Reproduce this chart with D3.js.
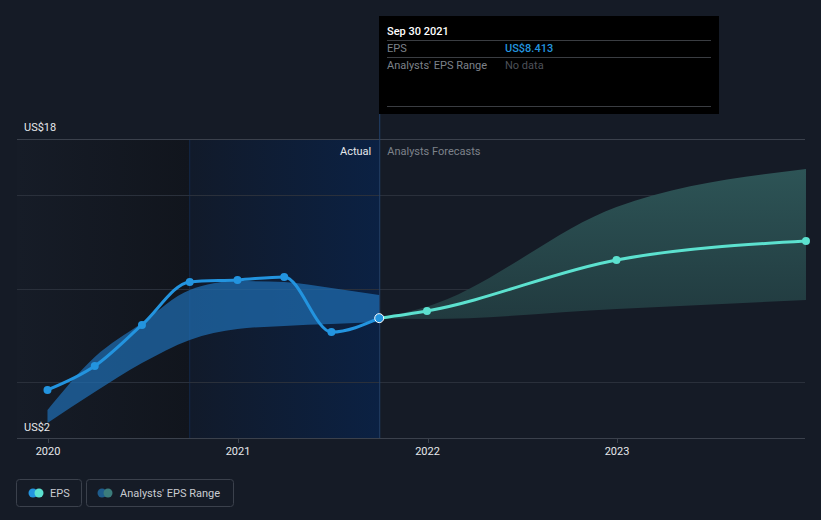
<!DOCTYPE html>
<html><head><meta charset="utf-8">
<script src="https://cdn.jsdelivr.net/npm/d3@7"></script>
<style>
html,body{margin:0;padding:0;background:#151b26;}
svg{display:block;font-family:Roboto,"Open Sans",sans-serif;}
</style></head><body>
<svg id="c" width="821" height="520"></svg>
<script>
// ---- data ----
const actualDates = ["2019-12-31","2020-03-31","2020-06-30","2020-09-30","2020-12-31","2021-03-31","2021-06-30","2021-09-30"];
const actualEPS = [4.57, 5.85, 8.05, 10.35, 10.46, 10.62, 7.67, 8.413];
const pastRangeDates = ["2019-12-31","2020-03-31","2020-06-30","2020-09-30","2020-12-31","2021-03-31","2021-06-30","2021-09-30"];
const pastRangeHigh = [3.50, 6.34, 8.16, 9.92, 10.40, 10.35, 10.03, 9.65];
const pastRangeLow = [2.80, 4.46, 6.01, 7.25, 7.83, 8.00, 8.10, 8.21];
const forecastDates = ["2021-09-30","2021-12-31","2022-12-31","2023-12-31"];
const forecastEPS = [8.413, 8.80, 11.53, 12.54];
const forecastHigh = [8.413, 9.03, 14.36, 16.39];
const forecastLow = [8.413, 8.37, 8.90, 9.39];
const yTicks = [2, 5, 10, 15, 18];
const yLabels = ["US$2", "US$18"];
const xTickYears = ["2020","2021","2022","2023"];

const parse = d3.timeParse("%Y-%m-%d");
const svg = d3.select("#c");
const L = 17, R = 805, T = 139, B = 438;
const x = d3.scaleTime().domain([parse("2019-11-01"), parse("2023-12-31")]);
// calibrate: 2020-01-01 at 48, 2023-01-01 at 617
const x0 = parse("2020-01-01"), x3 = parse("2023-01-01");
const pxPerMs = (617 - 48) / (x3 - x0);
x.domain([new Date(+x0 - (48 - L) / pxPerMs), new Date(+x0 + (R - 48) / pxPerMs)]).range([L, R]);
const y = d3.scaleLinear().domain([2, 18]).range([B, T]);

const defs = svg.append("defs");
const g1 = defs.append("linearGradient").attr("id","pastBg").attr("x1","0").attr("x2","1");
g1.append("stop").attr("offset","0").attr("stop-color","#161c27");
g1.append("stop").attr("offset","1").attr("stop-color","#11151d");
const g2 = defs.append("linearGradient").attr("id","hiBg").attr("x1","0").attr("x2","1");
g2.append("stop").attr("offset","0").attr("stop-color","#111a2a");
g2.append("stop").attr("offset","1").attr("stop-color","#0b2143");
const g3 = defs.append("linearGradient").attr("id","fcBand").attr("x1","0").attr("x2","0").attr("y1","0").attr("y2","1");
g3.append("stop").attr("offset","0").attr("stop-color","#2d5456");
g3.append("stop").attr("offset","1").attr("stop-color","#213a3f");

const splitX = x(parse(actualDates[actualDates.length-1]));
const hiStart = x(parse("2020-09-30"));
svg.append("rect").attr("x", L).attr("y", T).attr("width", hiStart - L).attr("height", B - T).attr("fill", "url(#pastBg)");
svg.append("rect").attr("x", hiStart).attr("y", T).attr("width", splitX - hiStart).attr("height", B - T).attr("fill", "url(#hiBg)");
svg.append("line").attr("x1", hiStart).attr("x2", hiStart).attr("y1", T).attr("y2", B).attr("stroke", "#13284a").attr("stroke-width", 1);

// grid
svg.append("g").selectAll("line").data(yTicks.filter(v => v !== 2)).join("line")
  .attr("x1", L).attr("x2", R).attr("y1", d => Math.round(y(d)) + 0.5).attr("y2", d => Math.round(y(d)) + 0.5)
  .attr("stroke", d => d === 18 ? "#3b414c" : "#2a303b").attr("stroke-width", 1);

// vertical split line
svg.append("line").attr("x1", splitX + 0.5).attr("x2", splitX + 0.5).attr("y1", 114).attr("y2", B)
  .attr("stroke", "#22406b").attr("stroke-width", 1);

const curve = d3.curveMonotoneX;
// past range band
const pastBand = pastRangeDates.map((d, i) => ({d: parse(d), hi: pastRangeHigh[i], lo: pastRangeLow[i]}));
svg.append("path").datum(pastBand)
  .attr("d", d3.area().curve(curve).x(p => x(p.d)).y0(p => y(p.lo)).y1(p => y(p.hi)))
  .attr("fill", "#1f6fb5").attr("fill-opacity", 0.7);

// forecast band
const fcBand = forecastDates.map((d, i) => ({d: parse(d), hi: forecastHigh[i], lo: forecastLow[i]}));
svg.append("path").datum(fcBand)
  .attr("d", d3.area().curve(curve).x(p => x(p.d)).y0(p => y(p.lo)).y1(p => y(p.hi)))
  .attr("fill", "url(#fcBand)");

// forecast line
const fc = forecastDates.map((d, i) => ({d: parse(d), v: forecastEPS[i]}));
svg.append("path").datum(fc)
  .attr("d", d3.line().curve(curve).x(p => x(p.d)).y(p => y(p.v)))
  .attr("fill", "none").attr("stroke", "#5ce1cf").attr("stroke-width", 3);
svg.append("g").selectAll("circle").data(fc.slice(1)).join("circle")
  .attr("cx", p => x(p.d)).attr("cy", p => y(p.v)).attr("r", 4).attr("fill", "#5ce1cf");

// actual line
const act = actualDates.map((d, i) => ({d: parse(d), v: actualEPS[i]}));
svg.append("path").datum(act)
  .attr("d", d3.line().curve(curve).x(p => x(p.d)).y(p => y(p.v)))
  .attr("fill", "none").attr("stroke", "#2394df").attr("stroke-width", 3);
svg.append("g").selectAll("circle").data(act).join("circle")
  .attr("cx", p => x(p.d)).attr("cy", p => y(p.v)).attr("r", (p, i) => i === act.length - 1 ? 4.5 : 4)
  .attr("fill", "#2394df")
  .attr("stroke", (p, i) => i === act.length - 1 ? "#ffffff" : "none").attr("stroke-width", 1);

// x axis
const xAxisG = svg.append("g");
xAxisG.append("line").attr("x1", L).attr("x2", R).attr("y1", B + 0.5).attr("y2", B + 0.5).attr("stroke", "#3b414c");
const xTicks = xTickYears.map(yr => parse(yr + "-01-01"));
xAxisG.selectAll("line.t").data(xTicks).join("line").attr("class","t")
  .attr("x1", d => Math.round(x(d)) + 0.5).attr("x2", d => Math.round(x(d)) + 0.5)
  .attr("y1", B).attr("y2", B + 5).attr("stroke", "#3b414c");
xAxisG.selectAll("text").data(xTicks).join("text")
  .attr("x", d => x(d)).attr("y", 455).attr("text-anchor", "middle")
  .attr("fill", "#e6e8eb").attr("font-size", 11).text((d, i) => xTickYears[i]);

// y labels
svg.append("text").attr("x", 24).attr("y", 131).attr("fill", "#e6e8eb").attr("font-size", 11).text(yLabels[1]);
svg.append("text").attr("x", 24).attr("y", 431).attr("fill", "#e6e8eb").attr("font-size", 11).text(yLabels[0]);

// section labels
svg.append("text").attr("x", splitX - 8).attr("y", 155).attr("text-anchor", "end")
  .attr("fill", "#e6e8eb").attr("font-size", 11).text("Actual");
svg.append("text").attr("x", splitX + 8).attr("y", 155)
  .attr("fill", "#7d828a").attr("font-size", 11).text("Analysts Forecasts");

// tooltip
const tt = svg.append("g");
tt.append("rect").attr("x", 379).attr("y", 16).attr("width", 340).attr("height", 98).attr("fill", "#000000");
tt.append("text").attr("x", 387).attr("y", 35).attr("fill", "#ffffff").attr("font-size", 11).attr("font-weight", 500).text("Sep 30 2021");
[40, 57, 106].forEach(yy => tt.append("line").attr("x1", 387).attr("x2", 711).attr("y1", yy + 0.5).attr("y2", yy + 0.5).attr("stroke", "#3a3d42"));
tt.append("text").attr("x", 387).attr("y", 52).attr("fill", "#7d828a").attr("font-size", 11).text("EPS");
tt.append("text").attr("x", 505).attr("y", 52).attr("fill", "#2394df").attr("font-size", 11).attr("font-weight", 500).text("US$" + actualEPS[actualEPS.length - 1].toFixed(3));
tt.append("text").attr("x", 387).attr("y", 69).attr("fill", "#7d828a").attr("font-size", 11).text("Analysts' EPS Range");
tt.append("text").attr("x", 505).attr("y", 69).attr("fill", "#4d5159").attr("font-size", 11).text("No data");

// legend
const lg = svg.append("g");
lg.append("rect").attr("x", 16.5).attr("y", 479.5).attr("width", 65).attr("height", 27).attr("rx", 3)
  .attr("fill", "none").attr("stroke", "#3b414c");
lg.append("circle").attr("cx", 33).attr("cy", 493).attr("r", 4.5).attr("fill", "#2394df");
lg.append("circle").attr("cx", 39).attr("cy", 493).attr("r", 4.5).attr("fill", "#5ce1cf");
lg.append("text").attr("x", 50).attr("y", 497).attr("fill", "#c9ccd1").attr("font-size", 11).text("EPS");
lg.append("rect").attr("x", 86.5).attr("y", 479.5).attr("width", 147).attr("height", 27).attr("rx", 3)
  .attr("fill", "none").attr("stroke", "#3b414c");
lg.append("circle").attr("cx", 102).attr("cy", 493).attr("r", 4.5).attr("fill", "#1e5c8c");
lg.append("circle").attr("cx", 108).attr("cy", 493).attr("r", 4.5).attr("fill", "#3b7c7b");
lg.append("text").attr("x", 120).attr("y", 497).attr("fill", "#c9ccd1").attr("font-size", 11).text("Analysts' EPS Range");
</script>
</body></html>
